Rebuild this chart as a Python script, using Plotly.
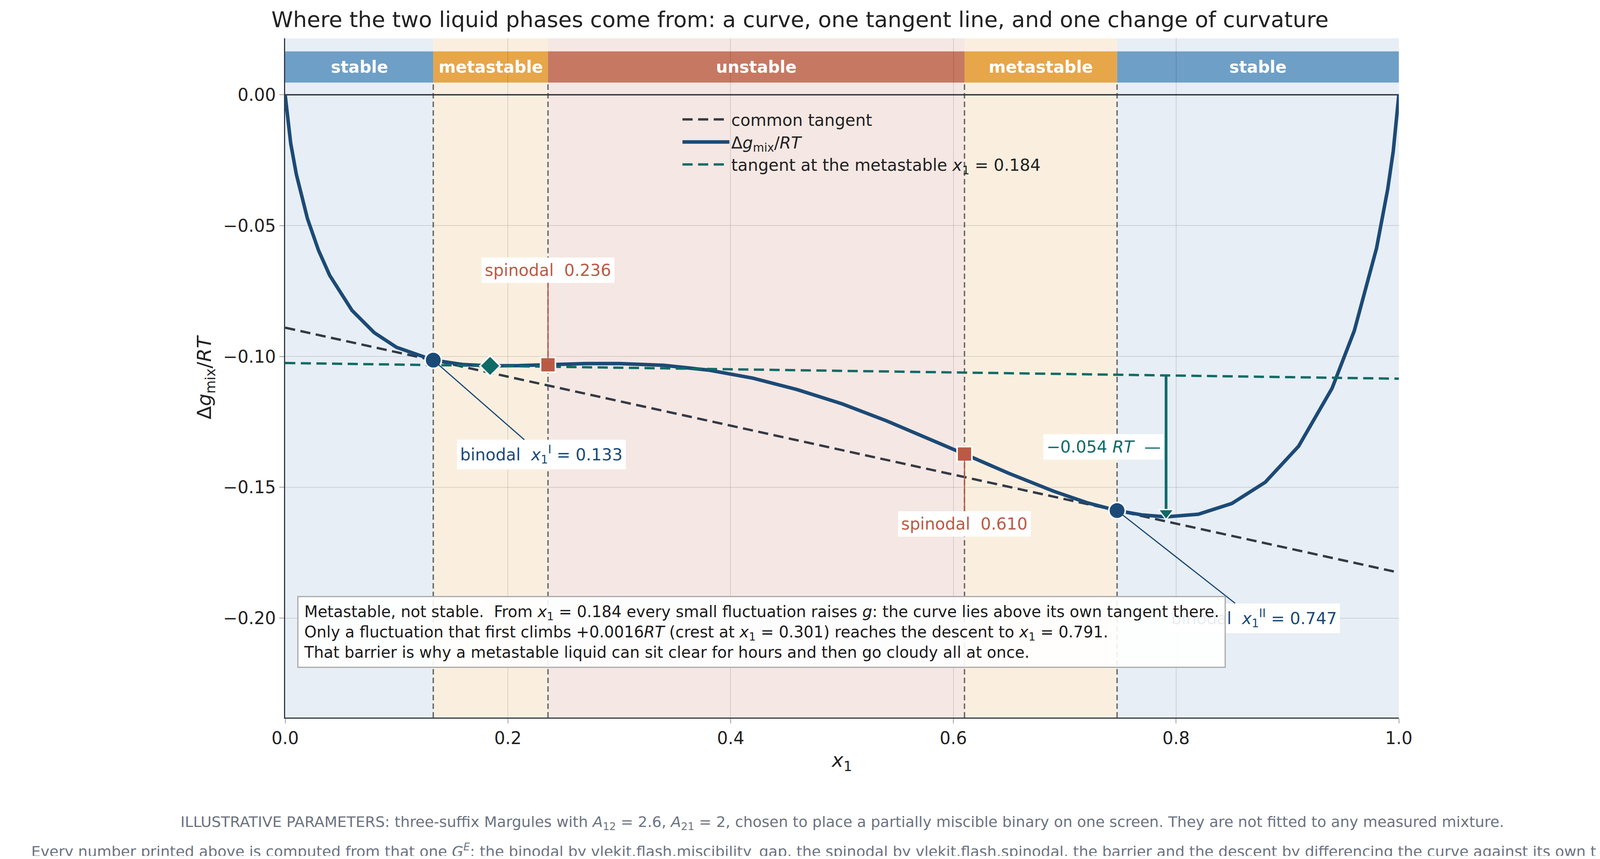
import plotly.graph_objects as go

# Curve values (x1, Δg_mix/RT)
x_curve = [0.0, 0.002, 0.005, 0.01, 0.02, 0.03, 0.04, 0.06, 0.08, 0.10, 0.133, 0.16, 0.184, 0.21,
           0.236, 0.27, 0.30, 0.34, 0.38, 0.42, 0.46, 0.50, 0.54, 0.58, 0.61, 0.65, 0.69, 0.72,
           0.747, 0.77, 0.791, 0.82, 0.85, 0.88, 0.91, 0.94, 0.96, 0.98, 0.99, 0.995, 0.998, 1.0]
g_curve = [0.0, -0.0085, -0.0186, -0.0303, -0.0473, -0.0595, -0.0690, -0.0824, -0.0909, -0.0965,
           -0.1014, -0.1031, -0.1036, -0.1035, -0.1032, -0.1027, -0.1027, -0.1034, -0.1052,
           -0.1083, -0.1127, -0.1181, -0.1246, -0.1317, -0.1373, -0.1447, -0.1515, -0.1559,
           -0.1589, -0.1606, -0.1613, -0.1603, -0.1562, -0.1481, -0.1343, -0.1122, -0.0902,
           -0.0586, -0.0361, -0.0215, -0.0095, 0.0]

common_x = [0.0, 1.0]
common_y = [-0.0890, -0.1826]
meta_tan_x = [0.0, 1.0]
meta_tan_y = [-0.1025, -0.1085]

binodal_x = [0.133, 0.747]
binodal_y = [-0.1014, -0.1589]
spinodal_x = [0.236, 0.610]
spinodal_y = [-0.1032, -0.1373]
meta_x, meta_y = 0.184, -0.1036
desc_x, desc_top, desc_bot = 0.791, -0.1072, -0.1613

regions = [(0.0, 0.133, "stable"), (0.133, 0.236, "metastable"), (0.236, 0.610, "unstable"),
           (0.610, 0.747, "metastable"), (0.747, 1.0, "stable")]
head_col = {"stable": "#6e9fc6", "metastable": "#e7a649", "unstable": "#c77862"}
bg_col = {"stable": "#e7eef5", "metastable": "#faefdf", "unstable": "#f5e7e3"}

NAVY = "#1c4a76"
TEAL = "#0e6b66"
RED = "#bb5a44"
DARK = "#333a45"
FONT = "DejaVu Sans"
DASH = "26px,14px"

fig = go.Figure()
fig.add_trace(go.Scatter(x=common_x, y=common_y, mode="lines", name="common tangent",
                         line=dict(color=DARK, width=6, dash=DASH)))
fig.add_trace(go.Scatter(x=x_curve, y=g_curve, mode="lines",
                         name="Δ<i>g</i><sub>mix</sub>/<i>RT</i>",
                         line=dict(color=NAVY, width=9)))
fig.add_trace(go.Scatter(x=meta_tan_x, y=meta_tan_y, mode="lines",
                         name="tangent at the metastable <i>x</i><sub>1</sub> = 0.184",
                         line=dict(color=TEAL, width=6, dash=DASH)))
fig.add_trace(go.Scatter(x=[desc_x, desc_x], y=[desc_top, desc_bot + 0.003], mode="lines",
                         showlegend=False, line=dict(color=TEAL, width=7)))
fig.add_trace(go.Scatter(x=[desc_x], y=[desc_bot + 0.0015], mode="markers", showlegend=False,
                         cliponaxis=False,
                         marker=dict(symbol="triangle-down", size=34, color=TEAL,
                                     line=dict(color="white", width=3))))
fig.add_trace(go.Scatter(x=binodal_x, y=binodal_y, mode="markers", showlegend=False,
                         cliponaxis=False,
                         marker=dict(symbol="circle", size=42, color=NAVY,
                                     line=dict(color="white", width=4))))
fig.add_trace(go.Scatter(x=spinodal_x, y=spinodal_y, mode="markers", showlegend=False,
                         cliponaxis=False,
                         marker=dict(symbol="square", size=38, color=RED,
                                     line=dict(color="white", width=4))))
fig.add_trace(go.Scatter(x=[meta_x], y=[meta_y], mode="markers", showlegend=False,
                         cliponaxis=False,
                         marker=dict(symbol="diamond", size=40, color=TEAL,
                                     line=dict(color="white", width=4))))

shapes = []
annotations = []
for x0, x1, name in regions:
    shapes.append(dict(type="rect", xref="x", yref="paper", x0=x0, x1=x1, y0=0, y1=1,
                       fillcolor=bg_col[name], line_width=0, layer="below"))
    shapes.append(dict(type="rect", xref="x", yref="y", x0=x0, x1=x1, y0=0.0047, y1=0.0166,
                       fillcolor=head_col[name], line_width=0, layer="below"))
    annotations.append(dict(x=(x0 + x1) / 2, y=0.0106, xref="x", yref="y", text=f"<b>{name}</b>",
                            showarrow=False, font=dict(size=42, color="white")))
for xb in binodal_x + spinodal_x:
    shapes.append(dict(type="line", xref="x", yref="y", x0=xb, x1=xb, y0=-0.238, y1=0.0047,
                       line=dict(color="#666666", width=3.5, dash="14px,8px"), layer="below"))
shapes.append(dict(type="line", xref="x", yref="y", x0=0, x1=1, y0=0, y1=0,
                   line=dict(color=DARK, width=3.5), layer="below"))

box = dict(bgcolor="white", borderpad=8, borderwidth=0)
annotations += [
    dict(x=binodal_x[0], y=binodal_y[0], ax=0.23, ay=-0.1375, axref="x", ayref="y",
         text="binodal  <i>x</i><sub>1</sub><sup>I</sup> = 0.133", showarrow=True, arrowhead=0,
         arrowwidth=3, arrowcolor=NAVY, font=dict(size=42, color=NAVY), standoff=14, **box),
    dict(x=binodal_x[1], y=binodal_y[1], ax=0.87, ay=-0.2, axref="x", ayref="y",
         text="binodal  <i>x</i><sub>1</sub><sup>II</sup> = 0.747", showarrow=True, arrowhead=0,
         arrowwidth=3, arrowcolor=NAVY, font=dict(size=42, color=NAVY), standoff=14, **box),
    dict(x=spinodal_x[0], y=spinodal_y[0], ax=0.236, ay=-0.067, axref="x", ayref="y",
         text="spinodal  0.236", showarrow=True, arrowhead=0, arrowwidth=3, arrowcolor=RED,
         font=dict(size=42, color=RED), standoff=14, **box),
    dict(x=spinodal_x[1], y=spinodal_y[1], ax=0.61, ay=-0.164, axref="x", ayref="y",
         text="spinodal  0.610", showarrow=True, arrowhead=0, arrowwidth=3, arrowcolor=RED,
         font=dict(size=42, color=RED), standoff=14, **box),
    dict(x=0.735, y=-0.1345, text="−0.054 <i>RT</i>  —", showarrow=False,
         font=dict(size=42, color=TEAL), **box),
    dict(x=0.011, y=-0.1915, xanchor="left", yanchor="top", align="left", showarrow=False,
         text=("Metastable, not stable.  From <i>x</i><sub>1</sub> = 0.184 every small fluctuation raises <i>g</i>: "
               "the curve lies above its own tangent there.<br>"
               "Only a fluctuation that first climbs +0.0016<i>RT</i> (crest at <i>x</i><sub>1</sub> = 0.301) "
               "reaches the descent to <i>x</i><sub>1</sub> = 0.791.<br>"
               "That barrier is why a metastable liquid can sit clear for hours and then go cloudy all at once."),
         font=dict(size=40, color="#1a1a1a"), bgcolor="rgba(255,255,255,0.9)",
         bordercolor="#aaaaaa", borderwidth=3, borderpad=14),
    dict(x=0.5, y=-0.14, xref="paper", yref="paper", yanchor="top", showarrow=False,
         text=("ILLUSTRATIVE PARAMETERS: three-suffix Margules with <i>A</i><sub>12</sub> = 2.6, "
               "<i>A</i><sub>21</sub> = 2, chosen to place a partially miscible binary on one screen. "
               "They are not fitted to any measured mixture."),
         font=dict(size=38, color="#6b7280")),
    dict(x=0.5, y=-0.18, xref="paper", yref="paper", yanchor="top", showarrow=False,
         text=("Every number printed above is computed from that one <i>G</i><sup><i>E</i></sup>: the binodal by "
               "vlekit.flash.miscibility_gap, the spinodal by vlekit.flash.spinodal, the barrier and the "
               "descent by differencing the curve against its own tangent."),
         font=dict(size=38, color="#6b7280")),
]

fig.update_layout(
    autosize=True,
    margin=dict(l=722, r=507, t=90, b=354),
    paper_bgcolor="white", plot_bgcolor="white",
    font=dict(family=FONT, size=44, color="#222222"),
    title=dict(text="Where the two liquid phases come from: a curve, one tangent line, and one change of curvature",
               x=0.5, xanchor="center", y=0.99, yanchor="top", font=dict(size=56)),
    xaxis=dict(range=[0, 1], tickvals=[0, 0.2, 0.4, 0.6, 0.8, 1.0], tickformat=".1f",
               title=dict(text="<i>x</i><sub>1</sub>", font=dict(size=50)),
               showline=True, linecolor=DARK, linewidth=3, ticks="outside", ticklen=12,
               gridcolor="rgba(0,0,0,0.12)", gridwidth=2, zeroline=False),
    yaxis=dict(range=[-0.238, 0.0216], tickvals=[0, -0.05, -0.1, -0.15, -0.2], tickformat=".2f",
               title=dict(text="Δ<i>g</i><sub>mix</sub>/<i>RT</i>", font=dict(size=50)),
               showline=True, linecolor=DARK, linewidth=3, ticks="outside", ticklen=12,
               gridcolor="rgba(0,0,0,0.12)", gridwidth=2, zeroline=False),
    legend=dict(x=0.355, y=0.9, xanchor="left", yanchor="top", bgcolor="rgba(0,0,0,0)",
                font=dict(size=42), itemwidth=120),
    shapes=shapes, annotations=annotations,
)

fig.write_html("out.html", default_width="100%", default_height="100%",
               config={"responsive": True})
